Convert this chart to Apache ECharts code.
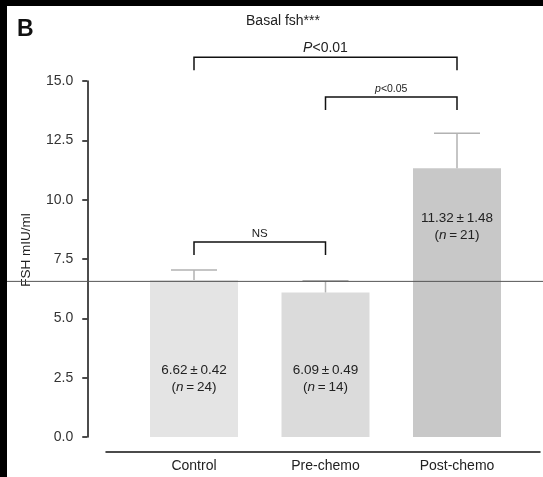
<!DOCTYPE html>
<html>
<head>
<meta charset="utf-8">
<script src="https://cdn.jsdelivr.net/npm/echarts@6/dist/echarts.min.js"></script>
<style>
  html, body { margin: 0; padding: 0; background: #fff; }
  #chart { width: 543px; height: 477px; }
</style>
</head>
<body>
<div id="chart"></div>
<script>
// Basal FSH by group: mean ± SEM with group sizes
const categories = ['Control', 'Pre-chemo', 'Post-chemo'];
const means = [6.62, 6.09, 11.32];
const sems = [0.42, 0.49, 1.48];
const counts = [24, 14, 21];
const yTicks = [0, 2.5, 5, 7.5, 10, 12.5, 15];

// Pairwise comparisons shown as brackets above the bars
const bracketFrom = [0, 1, 0];
const bracketTo = [2, 2, 1];
const bracketText = ['{i|P}<0.01', '{is|p}{s|<0.05}', '{n|NS}'];

const FONT = '"Liberation Sans", Arial, Helvetica, sans-serif';
const barColors = ['#e4e4e4', '#dbdbdb', '#c8c8c8'];
// bracket heights, in axis units
const bracketLevel = [16.0, 14.33, 8.22];
const THIN = '\u2009';

const chart = echarts.init(document.getElementById('chart'));

const barData = means.map((m, i) => {
  const inBottom = i < 2;
  return {
    value: m,
    itemStyle: { color: barColors[i] },
    label: {
      show: true,
      position: inBottom ? 'insideBottom' : 'insideTop',
      distance: 41,
      formatter: '{v|' + m.toFixed(2) + THIN + '±' + THIN + sems[i].toFixed(2) + '}\n{v|(}{i|n}{v|' + THIN + '=' + THIN + counts[i] + ')}',
      rich: {
        v: { fontFamily: FONT, fontSize: 13.5, color: '#222', lineHeight: 17 },
        i: { fontFamily: FONT, fontSize: 13.5, color: '#222', fontStyle: 'italic', lineHeight: 17 }
      }
    }
  };
});

const option = {
  backgroundColor: '#ffffff',
  animation: false,
  textStyle: { fontFamily: FONT },
  title: [
    {
      text: 'Basal fsh***',
      left: 278, top: 9, textAlign: 'center',
      textStyle: { fontFamily: FONT, fontSize: 14, fontWeight: 'normal', color: '#222' }
    },
    {
      text: 'B',
      left: 12, top: 13,
      textStyle: { fontFamily: FONT, fontSize: 23, fontWeight: 'bold', color: '#111' }
    }
  ],
  grid: [
    { left: 128.25, right: 20.25, top: 81, height: 356 },
    { left: 106, right: 3, top: 440, height: 12 }
  ],
  xAxis: [
    {
      gridIndex: 0, type: 'category', data: categories,
      axisLine: { show: false }, axisTick: { show: false },
      axisLabel: { margin: 22, fontFamily: FONT, fontSize: 14, color: '#222' }
    },
    {
      gridIndex: 1, type: 'value', min: 0, max: 1,
      axisLine: { show: true, onZero: false, lineStyle: { color: '#111', width: 1.5 } },
      axisTick: { show: false }, axisLabel: { show: false }, splitLine: { show: false }
    }
  ],
  yAxis: [
    {
      gridIndex: 0, type: 'value', min: yTicks[0], max: yTicks[yTicks.length - 1],
      interval: yTicks[1] - yTicks[0], offset: 41,
      name: 'FSH mIU/ml', nameLocation: 'middle', nameGap: 54,
      nameTextStyle: { fontFamily: FONT, fontSize: 13.5, color: '#222', padding: [0, 0, 0, 18] },
      axisLine: { show: true, lineStyle: { color: '#111', width: 1.5 } },
      axisTick: { show: true, length: 5, lineStyle: { color: '#111', width: 1.5 } },
      axisLabel: { margin: 14, fontFamily: FONT, fontSize: 14, color: '#333',
        formatter: v => v.toFixed(1) },
      splitLine: { show: false }
    },
    { gridIndex: 1, type: 'value', show: false }
  ],
  series: [
    {
      type: 'bar', xAxisIndex: 0, yAxisIndex: 0,
      barWidth: 88, data: barData, z: 2
    },
    {
      // upper error whiskers (mean to mean + SEM)
      type: 'custom', xAxisIndex: 0, yAxisIndex: 0, z: 3,
      data: means.map((m, i) => [i, m, m + sems[i]]),
      renderItem: (params, api) => {
        const base = api.coord([api.value(0), api.value(1)]);
        const top = api.coord([api.value(0), api.value(2)]);
        const half = 23;
        const style = { stroke: '#b2b2b2', lineWidth: 1.5, fill: null };
        return {
          type: 'group',
          children: [
            { type: 'line', shape: { x1: base[0], y1: base[1], x2: top[0], y2: top[1] }, style },
            { type: 'line', shape: { x1: top[0] - half, y1: top[1], x2: top[0] + half, y2: top[1] }, style }
          ]
        };
      }
    },
    {
      // significance brackets
      type: 'custom', xAxisIndex: 0, yAxisIndex: 0, z: 4, clip: false,
      data: bracketFrom.map((f, i) => [f, bracketTo[i], bracketLevel[i], i]),
      renderItem: (params, api) => {
        const idx = api.value(3);
        const a = api.coord([api.value(0), api.value(2)]);
        const b = api.coord([api.value(1), api.value(2)]);
        const leg = 13;
        return {
          type: 'group',
          children: [
            {
              type: 'polyline',
              shape: { points: [[a[0], a[1] + leg], [a[0], a[1]], [b[0], b[1]], [b[0], b[1] + leg]] },
              style: { stroke: '#111', lineWidth: 1.5, fill: null }
            },
            {
              type: 'text',
              style: {
                x: (a[0] + b[0]) / 2, y: a[1] - 2,
                text: bracketText[idx],
                align: 'center', verticalAlign: 'bottom',
                fill: '#222',
                rich: {
                  i: { fontFamily: FONT, fontSize: 14, fontStyle: 'italic', fill: '#222' },
                  is: { fontFamily: FONT, fontSize: 10.5, fontStyle: 'italic', fill: '#222' },
                  s: { fontFamily: FONT, fontSize: 10.5, fill: '#222' },
                  n: { fontFamily: FONT, fontSize: 11.5, fill: '#222' }
                },
                font: '14px ' + FONT
              }
            }
          ]
        };
      }
    }
  ]
};

chart.setOption(option);

// black frame strips and a thin reference line across the figure at the control mean
const refY = chart.convertToPixel({ xAxisIndex: 0, yAxisIndex: 0 }, [0, means[0]])[1];
chart.setOption({
  graphic: [
    { type: 'rect', left: 0, top: 0, shape: { width: 543, height: 6 }, style: { fill: '#000' }, z: 100 },
    { type: 'rect', left: 0, top: 0, shape: { width: 7, height: 477 }, style: { fill: '#000' }, z: 100 },
    { type: 'line', shape: { x1: 7, y1: refY + 1.5, x2: 543, y2: refY + 1.5 },
      style: { stroke: '#555', lineWidth: 1 }, z: 50 }
  ]
});
</script>
</body>
</html>
